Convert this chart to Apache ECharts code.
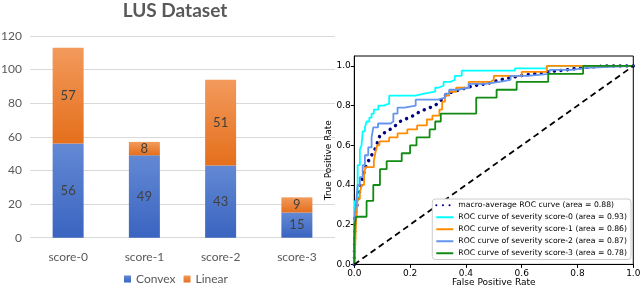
<!DOCTYPE html>
<html><head><meta charset="utf-8">
<script src="https://cdn.jsdelivr.net/npm/echarts@6/dist/echarts.min.js"></script>
<style>html,body{margin:0;padding:0;background:#fff}#c{width:640px;height:288px}</style>
</head><body><div id="c"></div>
<script>
// ---- Left chart: stacked bars ----
const categories = ['score-0', 'score-1', 'score-2', 'score-3'];
const convexCounts = [56, 49, 43, 15];
const linearCounts = [57, 8, 51, 9];

// ---- Right chart: ROC curves ----
const macroFpr = [0, 0.002, 0.018, 0.03, 0.038, 0.05, 0.062, 0.074, 0.092, 0.116, 0.14, 0.164, 0.212, 0.235, 0.271, 0.289, 0.313, 0.331, 0.379, 0.426, 0.474, 0.522, 0.594, 0.69, 0.76, 0.81, 0.9, 1];
const macroTpr = [0, 0.24, 0.36, 0.44, 0.48, 0.52, 0.55, 0.58, 0.65, 0.67, 0.69, 0.72, 0.75, 0.77, 0.79, 0.8, 0.83, 0.86, 0.88, 0.9, 0.91, 0.93, 0.95, 0.97, 0.98, 0.99, 1.0, 1.0];
const score0Fpr = [0, 0.002, 0.012, 0.02, 0.026, 0.03, 0.038, 0.044, 0.054, 0.062, 0.07, 0.086, 0.105, 0.125, 0.22, 0.25, 0.29, 0.30, 0.32, 0.345, 0.36, 0.385, 0.576, 0.69, 1];
const score0Tpr = [0, 0.32, 0.5, 0.58, 0.6, 0.67, 0.69, 0.72, 0.74, 0.76, 0.78, 0.80, 0.81, 0.85, 0.86, 0.87, 0.89, 0.9, 0.92, 0.93, 0.95, 0.976, 0.988, 1.0, 1.0];
const score1Fpr = [0, 0.002, 0.006, 0.012, 0.02, 0.026, 0.035, 0.04, 0.07, 0.075, 0.082, 0.09, 0.125, 0.155, 0.19, 0.225, 0.26, 0.28, 0.305, 0.315, 0.325, 0.34, 0.365, 0.41, 0.49, 0.5, 0.6, 0.69, 1];
const score1Tpr = [0, 0.05, 0.2, 0.33, 0.36, 0.4, 0.45, 0.49, 0.52, 0.56, 0.6, 0.62, 0.64, 0.66, 0.68, 0.7, 0.73, 0.75, 0.78, 0.82, 0.85, 0.87, 0.89, 0.92, 0.93, 0.95, 0.97, 1.0, 1.0];
const score2Fpr = [0, 0, 0.006, 0.012, 0.02, 0.03, 0.038, 0.05, 0.062, 0.068, 0.085, 0.13, 0.14, 0.155, 0.18, 0.22, 0.3, 0.325, 0.34, 0.37, 0.41, 0.47, 0.52, 0.56, 0.62, 0.7, 0.78, 0.83, 1];
const score2Tpr = [0, 0.23, 0.3, 0.4, 0.44, 0.5, 0.55, 0.59, 0.64, 0.69, 0.71, 0.72, 0.76, 0.79, 0.8, 0.83, 0.84, 0.86, 0.88, 0.89, 0.91, 0.92, 0.93, 0.95, 0.96, 0.98, 0.99, 1.0, 1.0];
const score3Fpr = [0, 0, 0.002, 0.006, 0.044, 0.068, 0.092, 0.116, 0.17, 0.2, 0.223, 0.27, 0.29, 0.31, 0.437, 0.51, 0.582, 0.695, 0.82, 1];
const score3Tpr = [0, 0.12, 0.2, 0.24, 0.32, 0.4, 0.48, 0.52, 0.56, 0.6, 0.64, 0.68, 0.72, 0.76, 0.84, 0.88, 0.92, 0.96, 1.0, 1.0];
const chanceFpr = [0, 1];
const chanceTpr = [0, 1];
const rocTicks = [0, 0.2, 0.4, 0.6, 0.8, 1.0];
const rocNames = [
  'macro-average ROC curve (area = 0.88)',
  'ROC curve of severity score-0 (area = 0.93)',
  'ROC curve of severity score-1 (area = 0.86)',
  'ROC curve of severity score-2 (area = 0.87)',
  'ROC curve of severity score-3 (area = 0.78)'
];

const zip = (a, b) => a.map((v, i) => [v, b[i]]);
const G = echarts.graphic.LinearGradient;
const blueFill = new G(0, 0, 0, 1, [{offset: 0, color: '#6389d4'}, {offset: 1, color: '#3a64c0'}]);
const orangeFill = new G(0, 0, 0, 1, [{offset: 0, color: '#f29a5c'}, {offset: 1, color: '#e56f1c'}]);
const F1 = 'Lato';
const F2 = 'DejaVu Sans';

const chart = echarts.init(document.getElementById('c'), null, {renderer: 'canvas'});
const rocLine = (name, fpr, tpr, color, extra) => Object.assign({
  name, type: 'line', xAxisIndex: 1, yAxisIndex: 1, data: zip(fpr, tpr),
  symbol: 'none', showSymbol: false, clip: false, animation: false,
  lineStyle: {color, width: 1.8}, itemStyle: {color}, emphasis: {disabled: true}
}, extra || {});

chart.setOption({
  animation: false,
  title: {
    text: 'LUS Dataset', left: 170, top: -4, textAlign: 'center',
    textStyle: {fontFamily: F1, fontWeight: 'bold', fontSize: 19, color: '#595959'}
  },
  legend: [{
    data: ['Convex', 'Linear'], left: 124, top: 273, itemWidth: 7, itemHeight: 7, itemGap: 8,
    icon: 'rect', selectedMode: false, padding: 0,
    textStyle: {fontFamily: F1, fontSize: 12, color: '#595959'}
  }, {
    data: rocNames, orient: 'vertical', right: 9, top: 199,
    itemWidth: 17, itemHeight: 10.5, itemGap: 1.5, padding: [1, 4, 1, 3],
    backgroundColor: '#fff', borderColor: '#cccccc', borderWidth: 1, borderRadius: 3,
    selectedMode: false,
    itemStyle: {color: 'rgba(0,0,0,0)', borderColor: 'rgba(0,0,0,0)', borderWidth: 0},
    textStyle: {fontFamily: F2, fontSize: 7.7, color: '#000', lineHeight: 10.5}
  }],
  grid: [
    {left: 30, right: 305, top: 36, bottom: 50.3, containLabel: false, outerBoundsMode: 'none'},
    {left: 354.3, right: 6.7, top: 56, bottom: 23.6, containLabel: false, outerBoundsMode: 'none',
      show: true, borderColor: '#000', borderWidth: 1, backgroundColor: 'transparent'}
  ],
  xAxis: [{
    type: 'category', data: categories, gridIndex: 0,
    axisLine: {show: false}, axisTick: {show: false},
    axisLabel: {fontFamily: F1, fontSize: 12, color: '#595959', margin: 13}
  }, {
    type: 'value', gridIndex: 1, min: 0, max: 1, interval: 0.2,
    axisLine: {show: true, lineStyle: {color: '#000', width: 1}},
    axisTick: {show: true, length: 3.5, lineStyle: {color: '#000'}},
    splitLine: {show: false},
    axisLabel: {fontFamily: F2, fontSize: 9, color: '#000', margin: 5, formatter: v => v.toFixed(1)},
    name: 'False Positive Rate', nameLocation: 'middle', nameGap: 14, nameMoveOverlap: false,
    nameTextStyle: {fontFamily: F2, fontSize: 9, color: '#000'}
  }],
  yAxis: [{
    type: 'value', gridIndex: 0, min: 0, max: 120, interval: 20,
    axisLine: {show: false}, axisTick: {show: false},
    splitLine: {lineStyle: {color: '#d9d9d9', width: 1}},
    axisLabel: {fontFamily: F1, fontSize: 12, color: '#595959', margin: 8}
  }, {
    type: 'value', gridIndex: 1, min: 0, max: 1.05, interval: 0.2,
    axisLine: {show: true, lineStyle: {color: '#000', width: 1}},
    axisTick: {show: true, length: 3.5, lineStyle: {color: '#000'}, customValues: rocTicks},
    splitLine: {show: false},
    axisLabel: {fontFamily: F2, fontSize: 9, color: '#000', margin: 3.5, customValues: rocTicks,
      formatter: v => (v > 1.001 ? '' : v.toFixed(1))},
    name: 'True Positive Rate', nameLocation: 'middle', nameGap: 21, nameMoveOverlap: false,
    nameTextStyle: {fontFamily: F2, fontSize: 9, color: '#000'}
  }],
  series: [
    {
      name: 'Convex', type: 'bar', stack: 'n', xAxisIndex: 0, yAxisIndex: 0, data: convexCounts,
      barWidth: 31, itemStyle: {color: blueFill},
      label: {show: true, position: 'inside', fontFamily: F1, fontSize: 13, color: '#404040'}
    },
    {
      name: 'Linear', type: 'bar', stack: 'n', xAxisIndex: 0, yAxisIndex: 0, data: linearCounts,
      barWidth: 31, itemStyle: {color: orangeFill},
      label: {show: true, position: 'inside', fontFamily: F1, fontSize: 13, color: '#404040'}
    },
    rocLine(rocNames[0], macroFpr, macroTpr, '#000080', {
      lineStyle: {color: '#000080', width: 3.4, type: [0.1, 6.5], cap: 'round'}
    }),
    rocLine(rocNames[1], score0Fpr, score0Tpr, '#00ffff', {step: 'end'}),
    rocLine(rocNames[2], score1Fpr, score1Tpr, '#ff8c00', {step: 'end'}),
    rocLine(rocNames[3], score2Fpr, score2Tpr, '#6495ed', {step: 'end'}),
    rocLine(rocNames[4], score3Fpr, score3Tpr, '#138a13', {step: 'end'}),
    rocLine('chance', chanceFpr, chanceTpr, '#000', {lineStyle: {color: '#000', width: 1.8, type: [6, 4]}})
  ]
});
</script></body></html>
